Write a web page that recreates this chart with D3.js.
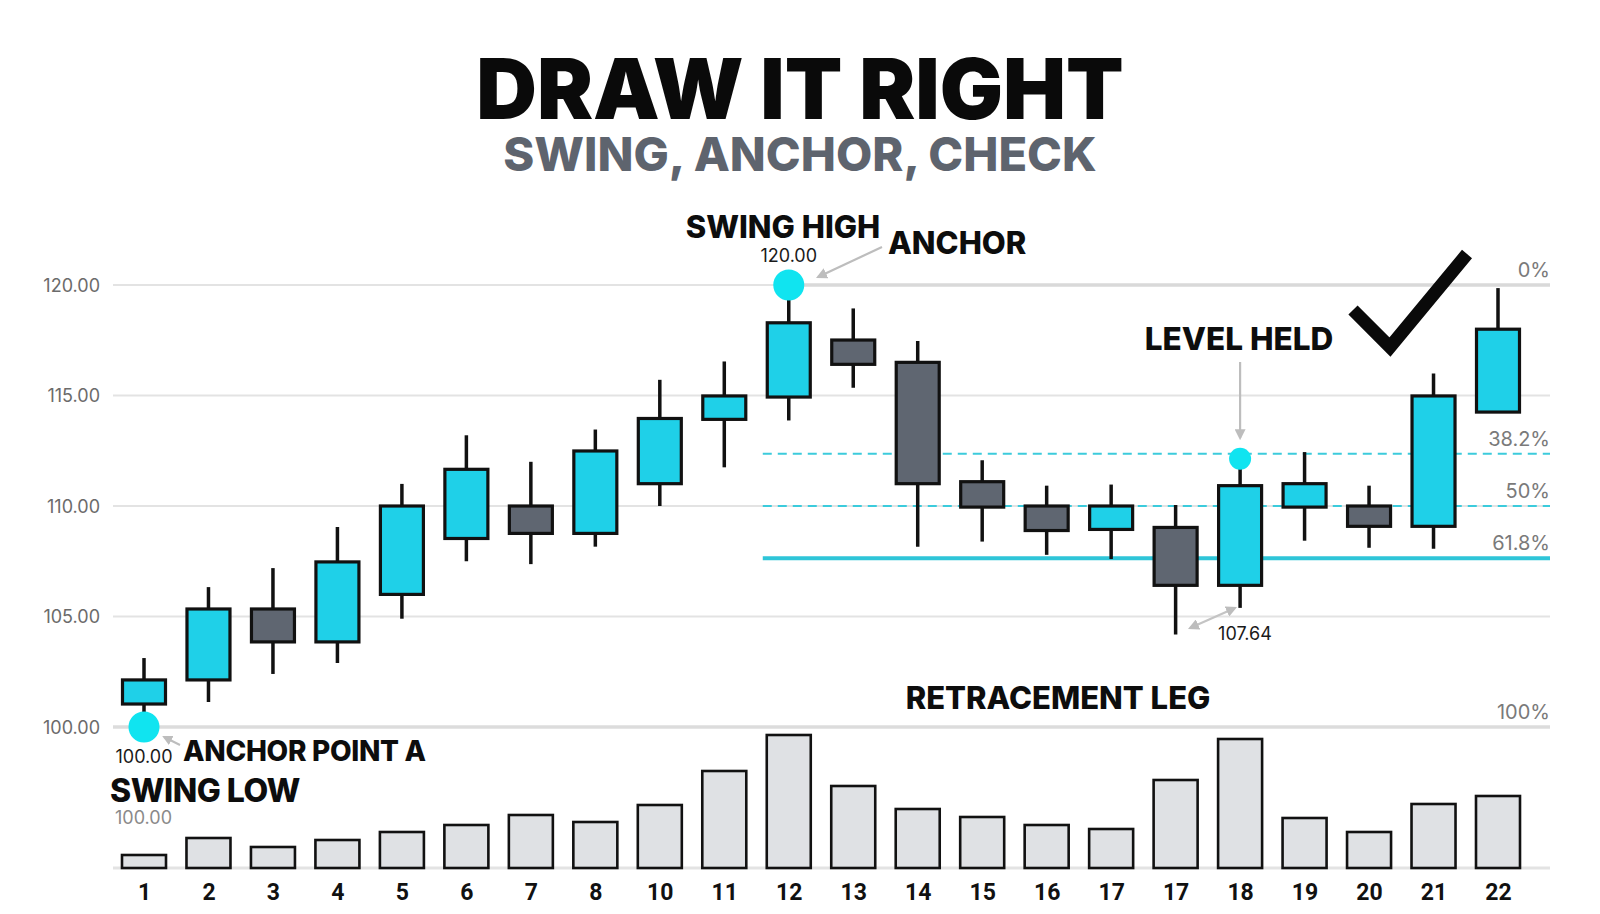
<!DOCTYPE html>
<html><head><meta charset="utf-8">
<script src="https://cdn.jsdelivr.net/npm/d3@7"></script>
<style>html,body{margin:0;padding:0;background:#fff;}svg{display:block;}</style>
</head><body>
<svg id="chart" width="1600" height="914"></svg>
<script>
// ---- data ----
const labels = ["1","2","3","4","5","6","7","8","10","11","12","13","14","15","16","17","17","18","19","20","21","22"];
const opens  = [101.04,102.13,105.34,103.85,106.0,108.53,110.0,108.76,111.01,113.92,114.93,117.51,116.5,111.1,110.0,108.94,109.03,106.41,109.95,110.0,109.08,114.25];
const closes = [102.13,105.34,103.85,107.47,110.0,111.66,108.76,112.49,113.96,114.98,118.29,116.41,111.01,109.95,108.89,110.0,106.41,110.92,111.01,109.08,114.98,118.0];
const highs  = [103.12,106.33,107.19,109.05,111.0,113.2,112.0,113.46,115.71,116.54,120.0,118.94,117.47,112.07,110.92,110.97,110.05,112.12,112.44,110.92,115.99,119.86];
const lows   = [100.0,101.13,102.4,102.9,104.9,107.5,107.37,108.16,110.0,111.75,113.87,115.35,108.16,108.39,107.79,107.6,104.19,105.39,108.43,108.11,108.06,114.25];
const volumes = [130,300,210,280,360,430,530,460,630,970,1330,820,590,510,430,390,880,1290,500,360,640,720];
const yTicks = [100,105,110,115,120];
const swingLow = 100.00, swingHigh = 120.00;
const fibRatios = [0, 0.382, 0.5, 0.618, 1];
const fibLabels = ["0%","38.2%","50%","61.8%","100%"];
const heldIndex = 17;   // candle "18" tests 38.2%
const lowIndex = 0, highIndex = 10;

// ---- setup ----
const svg = d3.select("#chart");
svg.append("rect").attr("width",1600).attr("height",914).attr("fill","#fff");
const idx = d3.range(labels.length);
const x = d3.scalePoint().domain(idx).range([144,1498]);
const y = d3.scaleLinear().domain([100,120]).range([727,285]);
const yv = d3.scaleLinear().domain([0,1330]).range([868,735]);
const gridL = 113, gridR = 1550;
const CYAN = "#1fd0e8", GRAY = "#5f6671", ACC = "#10e4f0";

const defs = svg.append("defs");
defs.append("marker").attr("id","arr").attr("viewBox","0 0 10 10").attr("refX",8).attr("refY",5)
  .attr("markerWidth",5).attr("markerHeight",5).attr("orient","auto-start-reverse")
  .append("path").attr("d","M0,0 L10,5 L0,10 z").attr("fill","#bdbdbd");

// title
svg.append("text").attr("x",800).attr("y",119).attr("text-anchor","middle")
  .attr("font-family","Inter").attr("font-weight",900).attr("font-size",84).attr("fill","#0a0a0a")
  .text("DRAW IT RIGHT");
svg.append("text").attr("x",800).attr("y",171).attr("text-anchor","middle")
  .attr("font-family","Inter").attr("font-weight",800).attr("font-size",47).attr("fill","#5e646e")
  .text("SWING, ANCHOR, CHECK");

// grid + y axis
const yAxis = d3.axisLeft(y).tickValues(yTicks).tickFormat(d3.format(".2f")).tickSize(0).tickPadding(0);
const ga = svg.append("g").attr("transform",`translate(100,0)`).call(yAxis);
ga.select(".domain").remove();
ga.selectAll("text").attr("font-family","Inter").attr("font-size",18).attr("fill","#6b6b6b").attr("dy","0.35em");
svg.append("g").selectAll("line").data(yTicks).join("line")
  .attr("x1",gridL).attr("x2",gridR).attr("y1",d=>y(d)).attr("y2",d=>y(d))
  .attr("stroke","#e3e3e3").attr("stroke-width",2);

// fib levels
const fibVals = fibRatios.map(r => swingHigh - r*(swingHigh-swingLow));
const fg = svg.append("g");
fibRatios.forEach((r,i)=>{
  const v = fibVals[i];
  let x1 = x(highIndex)-26, stroke="#2cc6d8", w=2, dash=null;
  if (r===0){ x1 = x(highIndex); stroke="#d9d9d9"; w=3.5; }
  else if (r===1){ x1 = gridL; stroke="#dcdcdc"; w=3.5; }
  else if (r===0.618){ w=4; stroke="#2ec5d8"; }
  else { dash="9,6"; stroke="#3ccbdc"; w=2; }
  fg.append("line").attr("x1",x1).attr("x2",gridR).attr("y1",y(v)).attr("y2",y(v))
    .attr("stroke",stroke).attr("stroke-width",w).attr("stroke-dasharray",dash);
  fg.append("text").attr("x",gridR).attr("y",y(v)-8).attr("text-anchor","end")
    .attr("font-family","Inter").attr("font-size",20).attr("fill","#7a7a7a").text(fibLabels[i]);
});

// volume
svg.append("line").attr("x1",gridL).attr("x2",gridR).attr("y1",yv(0)).attr("y2",yv(0))
  .attr("stroke","#e3e3e3").attr("stroke-width",3);
svg.append("g").selectAll("rect").data(idx).join("rect")
  .attr("x",i=>x(i)-22).attr("width",44)
  .attr("y",i=>yv(volumes[i])).attr("height",i=>yv(0)-yv(volumes[i]))
  .attr("fill","#dfe1e4").attr("stroke","#111").attr("stroke-width",2.6);

// x axis
const xAxis = d3.axisBottom(x).tickFormat(i=>labels[i]).tickSize(0).tickPadding(0);
const gx = svg.append("g").attr("transform","translate(0,884)").call(xAxis);
gx.select(".domain").remove();
gx.selectAll("text").attr("font-family","Roboto").attr("font-weight",700).attr("font-size",23).attr("fill","#111").attr("dy","0.71em");

// candles
const cg = svg.append("g");
cg.selectAll("line").data(idx).join("line")
  .attr("x1",i=>x(i)).attr("x2",i=>x(i)).attr("y1",i=>y(highs[i])).attr("y2",i=>y(lows[i]))
  .attr("stroke","#111").attr("stroke-width",3.5);
cg.selectAll("rect").data(idx).join("rect")
  .attr("x",i=>x(i)-21.5).attr("width",43)
  .attr("y",i=>y(Math.max(opens[i],closes[i])))
  .attr("height",i=>Math.abs(y(opens[i])-y(closes[i])))
  .attr("fill",i=>closes[i]>=opens[i]?CYAN:GRAY).attr("stroke","#111").attr("stroke-width",3.2);

// anchors
svg.append("circle").attr("cx",x(lowIndex)).attr("cy",y(swingLow)).attr("r",15.5).attr("fill",ACC);
svg.append("circle").attr("cx",x(highIndex)).attr("cy",y(swingHigh)).attr("r",15.5).attr("fill",ACC);
svg.append("circle").attr("cx",x(heldIndex)).attr("cy",y(fibVals[1])+5).attr("r",11).attr("fill",ACC);

// annotations
function t(txt,xx,yy,size,opt={}){
  return svg.append("text").attr("x",xx).attr("y",yy).attr("font-family","Inter")
    .attr("font-weight",opt.w||800).attr("font-size",size).attr("fill",opt.c||"#0d0d0d")
    .attr("text-anchor",opt.a||"start").attr("letter-spacing",opt.ls||0).text(txt);
}
t("SWING HIGH",783,238,31,{a:"middle"});
t("ANCHOR",888,254,31);
t("120.00",x(highIndex),262,18,{a:"middle",w:400,c:"#1a1a1a"});
svg.append("line").attr("x1",882).attr("y1",247).attr("x2",818).attr("y2",277)
  .attr("stroke","#bdbdbd").attr("stroke-width",2.2).attr("marker-end","url(#arr)");

t("LEVEL HELD",1239,350,31.5,{a:"middle"});
svg.append("line").attr("x1",x(heldIndex)).attr("y1",362).attr("x2",x(heldIndex)).attr("y2",438)
  .attr("stroke","#bdbdbd").attr("stroke-width",2.2).attr("marker-end","url(#arr)");

// check mark
svg.append("path").attr("d","M1353,310 L1390,347 L1467,254").attr("fill","none")
  .attr("stroke","#0a0a0a").attr("stroke-width",13).attr("stroke-linecap","butt").attr("stroke-linejoin","miter");

t("107.64",1245,640,18,{a:"middle",w:400,c:"#1a1a1a"});
svg.append("line").attr("x1",1190).attr("y1",628).attr("x2",1235).attr("y2",608)
  .attr("stroke","#c4c4c4").attr("stroke-width",2.2).attr("marker-start","url(#arr)").attr("marker-end","url(#arr)");

t("RETRACEMENT LEG",1058,709,31,{a:"middle"});

t("100.00",144,763,18,{a:"middle",w:400,c:"#1a1a1a"});
t("ANCHOR POINT A",183,761,28,{ls:-0.3});
svg.append("line").attr("x1",180).attr("y1",745).attr("x2",164).attr("y2",737)
  .attr("stroke","#bdbdbd").attr("stroke-width",2).attr("marker-end","url(#arr)");
t("SWING LOW",110,802,32,{ls:-0.5});
t("100.00",115,824,18,{w:400,c:"#8a8a8a"});
</script>
</body></html>
